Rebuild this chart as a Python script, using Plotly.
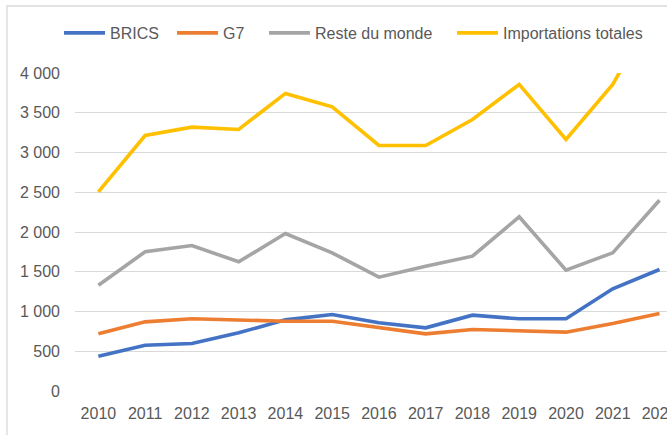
import plotly.graph_objects as go

years = list(range(2010, 2023))
year_labels = [str(y) for y in years]

brics = [438, 576, 597, 732, 895, 962, 858, 795, 954, 908, 908, 1286, 1528]
g7 = [719, 870, 908, 891, 878, 878, 795, 719, 774, 753, 740, 849, 975]
reste = [1331, 1751, 1830, 1625, 1981, 1738, 1432, 1570, 1696, 2191, 1520, 1738, 2400]
totales = [2505, 3214, 3319, 3290, 3743, 3575, 3088, 3088, 3415, 3856, 3164, 3856, 4903]

ytick_vals = [0, 500, 1000, 1500, 2000, 2500, 3000, 3500, 4000]
ytick_text = ["0", "500", "1 000", "1 500", "2 000", "2 500", "3 000", "3 500", "4 000"]

series = [
    ("BRICS", brics, "#4472C4"),
    ("G7", g7, "#ED7D31"),
    ("Reste du monde", reste, "#A5A5A5"),
    ("Importations totales", totales, "#FFC000"),
]

FONT = "Liberation Sans"
TXT = "#595959"

W, H = 667, 435
L, T, B = 75, 73, 44
plot_w = W - L
plot_h = H - T - B
step = 46.76

# legend item line start positions (pixels)
legend_px = [64, 177, 269, 457]
legend_names = ["legend", "legend2", "legend3", "legend4"]

fig = go.Figure()
for (name, vals, col), lg in zip(series, legend_names):
    fig.add_trace(go.Scatter(
        x=years, y=vals, name=name, mode="lines",
        line=dict(color=col, width=3.6),
        legend=lg,
    ))

legend_layout = {}
for lg, px in zip(legend_names, legend_px):
    legend_layout[lg] = dict(
        orientation="h", xanchor="left", yanchor="middle",
        x=(px - 5 - L) / plot_w, y=1 + (T - 33) / plot_h,
        font=dict(family=FONT, size=16, color=TXT),
        bgcolor="rgba(0,0,0,0)", itemclick=False, itemdoubleclick=False,
        itemwidth=41, borderwidth=0,
    )

fig.update_layout(
    width=W, height=H,
    margin=dict(l=L, r=0, t=T, b=B, autoexpand=False),
    paper_bgcolor="white", plot_bgcolor="white",
    font=dict(family=FONT, size=16, color=TXT),
    showlegend=True,
    xaxis=dict(
        range=[2009.5, 2009.5 + plot_w / step],
        tickvals=years, ticktext=year_labels,
        showgrid=False, zeroline=False, showline=False,
        ticks="", tickfont=dict(family=FONT, size=16, color=TXT),
        ticklabelstandoff=11, ticklabeloverflow="allow", fixedrange=True,
    ),
    yaxis=dict(
        range=[0, 4000],
        tickvals=ytick_vals, ticktext=ytick_text,
        showgrid=True, gridcolor="#D9D9D9", gridwidth=1.2,
        zeroline=False, showline=False, ticks="",
        tickfont=dict(family=FONT, size=16, color=TXT),
        ticklabelstandoff=14, fixedrange=True,
    ),
    shapes=[dict(
        type="rect", xref="paper", yref="paper",
        x0=(7 - L) / plot_w, x1=(720 - L) / plot_w,
        y0=1 - (480 - T) / plot_h, y1=1 + (T - 6) / plot_h,
        line=dict(color="#D9D9D9", width=1.3), fillcolor="rgba(0,0,0,0)",
        layer="below",
    )],
    **legend_layout,
)

fig.write_html(
    "out.html",
    config={"displayModeBar": False},
    post_script="document.body.style.margin='0';document.body.style.overflow='hidden';",
)
